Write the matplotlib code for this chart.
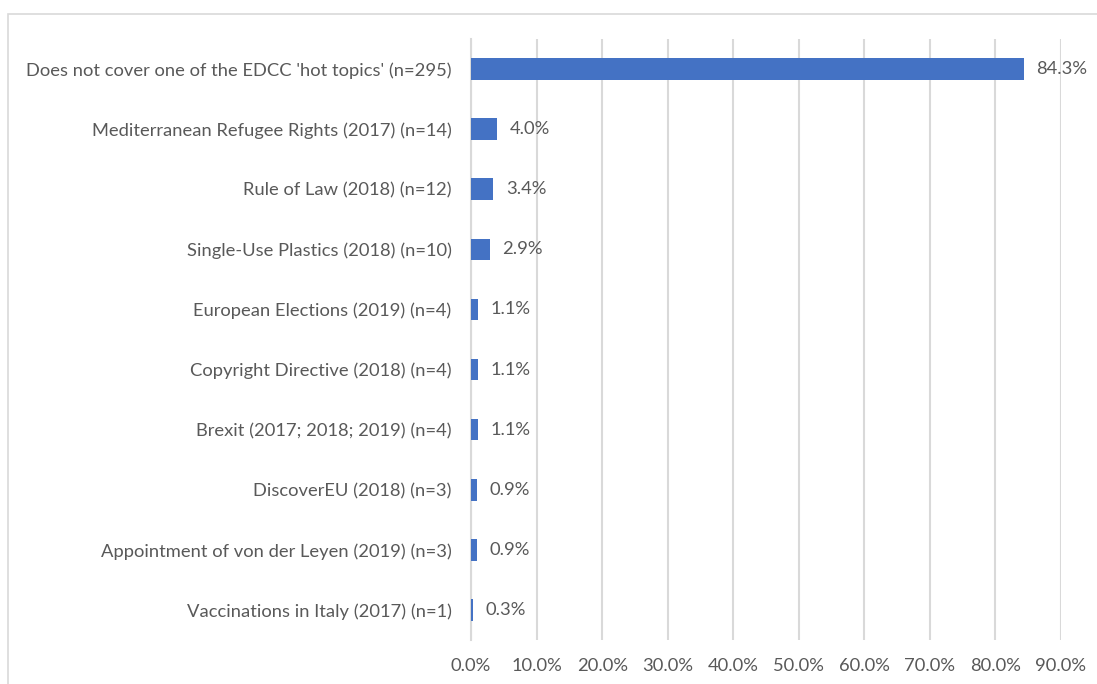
import matplotlib.pyplot as plt
from matplotlib.patches import Rectangle
from matplotlib.ticker import FuncFormatter

# categories top to bottom
categories = [
    "Does not cover one of the EDCC 'hot topics' (n=295)",
    "Mediterranean Refugee Rights (2017) (n=14)",
    "Rule of Law (2018) (n=12)",
    "Single-Use Plastics (2018) (n=10)",
    "European Elections (2019) (n=4)",
    "Copyright Directive (2018) (n=4)",
    "Brexit (2017; 2018; 2019) (n=4)",
    "DiscoverEU (2018) (n=3)",
    "Appointment of von der Leyen (2019) (n=3)",
    "Vaccinations in Italy (2017) (n=1)",
]
shares = [84.3, 4.0, 3.4, 2.9, 1.1, 1.1, 1.1, 0.9, 0.9, 0.3]
x_ticks = [0, 10, 20, 30, 40, 50, 60, 70, 80, 90]

plt.rcParams['font.family'] = ['Lato', 'DejaVu Sans']
txt = '#595959'
fs = 13.2

fig = plt.figure(figsize=(10.97, 6.84), dpi=100)
# chart frame
fig.patches.append(Rectangle((8 / 1097, -0.1), 1.2, 1 - 14 / 684 + 0.1,
                             transform=fig.transFigure, fill=False,
                             edgecolor='#d9d9d9', linewidth=1.2))

ax = fig.add_axes([471 / 1097, 1 - 640 / 684, (1061 - 471) / 1097, 601 / 684])
y = list(range(len(categories)))
ax.barh(y, shares, height=0.36, color='#4472c4', zorder=3)
ax.set_ylim(len(categories) - 0.5, -0.5)
ax.set_xlim(0, 90)
ax.set_xticks(x_ticks)
ax.xaxis.set_major_formatter(FuncFormatter(lambda v, p: f"{v:.1f}%"))
ax.set_yticks(y)
ax.set_yticklabels(categories)
ax.grid(axis='x', color='#d9d9d9', linewidth=1.5, zorder=0)
for s in ['top', 'right', 'bottom']:
    ax.spines[s].set_visible(False)
ax.spines['left'].set_color('#d9d9d9')
ax.spines['left'].set_linewidth(1.5)
ax.tick_params(axis='both', length=0, colors=txt, labelsize=fs)
ax.tick_params(axis='x', pad=13)
ax.tick_params(axis='y', pad=14)

for yi, v in zip(y, shares):
    ax.annotate(f"{v:.1f}%", (v, yi), xytext=(9, 0), textcoords='offset points',
                va='center', ha='left', color=txt, fontsize=fs)

fig.savefig('out.png', dpi=100)
